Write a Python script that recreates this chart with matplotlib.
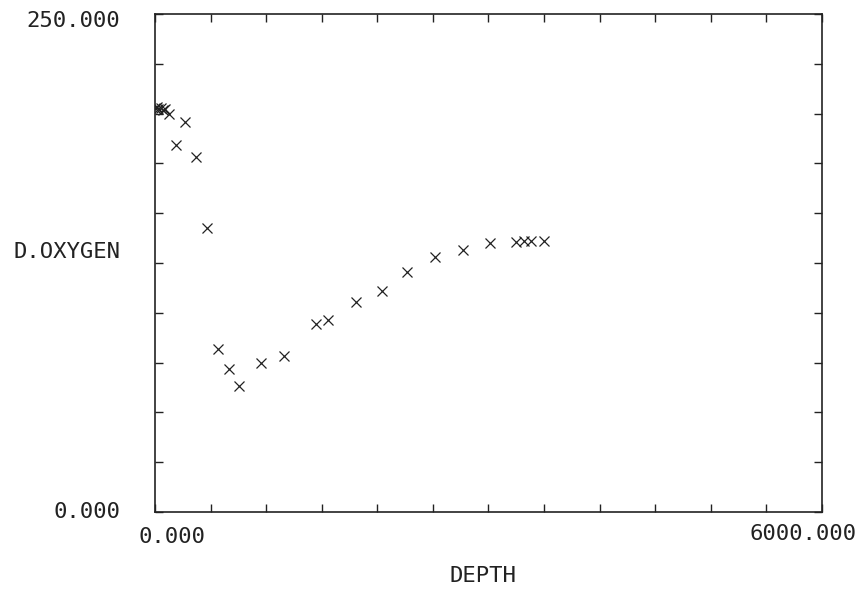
import numpy as np
import matplotlib
matplotlib.use("Agg")
import matplotlib.pyplot as plt

# depth (m) and dissolved oxygen
depth = [0, 15, 30, 50, 70, 90, 126, 189, 270, 369, 468, 567, 666, 756,
         954, 1160, 1448, 1556, 1808, 2042, 2267, 2519, 2771, 3013,
         3247, 3320, 3380, 3500]
oxygen = [203, 203.5, 202.5, 203, 202, 202.5, 200, 184, 196, 178, 142.5,
          82, 72, 63.5, 75, 78.5, 94.5, 96.5, 105.5, 111, 120.5, 128,
          131.5, 135, 135.5, 136, 136, 136]

x_ticks = [0, 6000]
x_tick_labels = ["0.000", "6000.000"]
y_tick_labels = ["0.000", "250.000"]

ink = "#222222"
plt.rcParams['font.family'] = ['DejaVu Sans Mono']

fig = plt.figure(figsize=(8.62, 5.94), dpi=100)
ax = fig.add_axes([0.1798, 0.138, 0.9536 - 0.1798, 0.9764 - 0.138])

ax.plot(depth, oxygen, linestyle='', marker='x', color=ink,
        markersize=7, markeredgewidth=0.9)

ax.set_xlim(0, 6000)
ax.set_ylim(0, 250)
ax.set_xticks(np.arange(0, 6001, 500))
ax.set_yticks(np.arange(0, 251, 25))
ax.tick_params(direction='in', length=6, width=1, color=ink,
               top=True, right=True, labelbottom=False, labelleft=False)
for s in ax.spines.values():
    s.set_color(ink)
    s.set_linewidth(1.2)

# tick values drawn in the plotter style
ax.annotate(x_tick_labels[0], xy=(x_ticks[0], 0), xycoords=('data', 'axes fraction'),
            xytext=(12, -18), textcoords='offset points', ha='center', va='center',
            fontsize=16, color=ink)
ax.annotate(x_tick_labels[1], xy=(x_ticks[1], 0), xycoords=('data', 'axes fraction'),
            xytext=(-14, -16), textcoords='offset points', ha='center', va='center',
            fontsize=16, color=ink)
ax.annotate(y_tick_labels[0], xy=(0, 0), xycoords=('axes fraction', 'data'),
            xytext=(-25, 0), textcoords='offset points', ha='right', va='center',
            fontsize=16, color=ink)
ax.annotate(y_tick_labels[1], xy=(0, 250), xycoords=('axes fraction', 'data'),
            xytext=(-25, -5), textcoords='offset points', ha='right', va='center',
            fontsize=16, color=ink)

ax.annotate("D.OXYGEN", xy=(0, 0.5), xycoords='axes fraction',
            xytext=(-25, 8), textcoords='offset points', ha='right', va='center',
            fontsize=16, color=ink)
ax.annotate("DEPTH", xy=(0.5, 0), xycoords='axes fraction',
            xytext=(-4, -46), textcoords='offset points', ha='center', va='center',
            fontsize=16, color=ink)

fig.savefig("out.png", dpi=100)
